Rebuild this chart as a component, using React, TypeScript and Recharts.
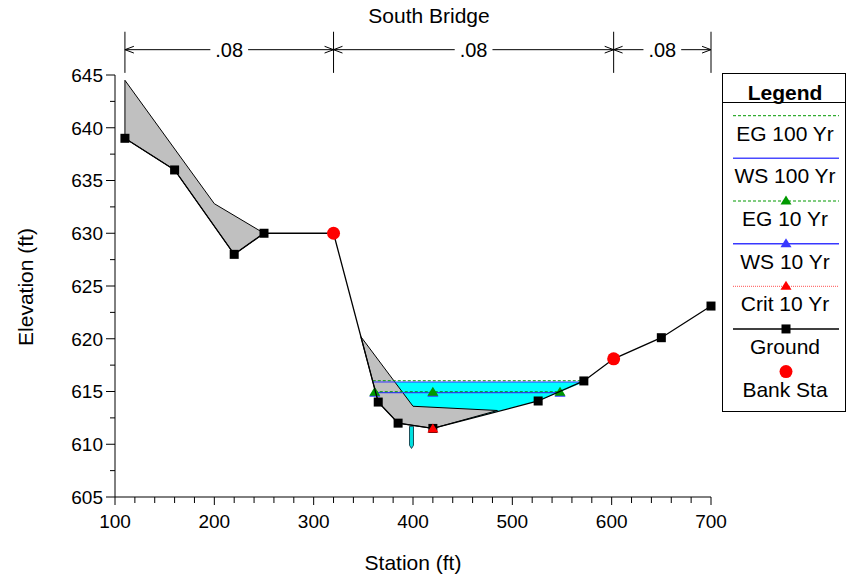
import { ComposedChart, XAxis, YAxis, Scatter, ReferenceLine, ReferenceDot, Legend } from 'recharts';

const FONT = '"Liberation Sans", Arial, Helvetica, sans-serif';

// ground profile (station ft, elevation ft)
const groundStations = [110, 160, 220, 250, 320, 365, 385, 420, 526, 572, 602, 650, 700];
const groundElev = [639, 636, 628, 630, 630, 614, 612, 611.5, 614.1, 616, 618.1, 620.1, 623.1];

const bankStations = [320, 602];
const bankElev = [630, 618.1];

// ineffective flow areas (gray polygons)
const ineff1Stations = [110, 200, 250, 220, 160, 110, 110];
const ineff1Elev = [644.5, 632.8, 630, 628, 636, 639, 644.5];
const ineff2Stations = [347.5, 400, 485, 420, 385, 365, 347.5];
const ineff2Elev = [620.2, 613.6, 613.2, 611.5, 612, 614, 620.2];

// wetted area below WS 100 Yr
const waterStations = [359.5, 572.5, 526, 420, 385, 365, 359.5];
const waterElev = [615.9, 615.9, 614.1, 611.5, 612, 614, 615.9];

// small pier below the channel
const pierStations = [396.5, 400.5, 400.5, 398.5, 396.5, 396.5];
const pierElev = [611.7, 611.7, 609.9, 609.6, 609.9, 611.7];

// water surfaces
const eg100Stations = [359.5, 572.5];
const eg100Elev = [616.02, 616.02];
const ws100Stations = [359.5, 572.5];
const ws100Elev = [615.9, 615.9];
const eg10Stations = [361.5, 420, 548];
const eg10Elev = [614.98, 614.98, 614.98];
const ws10Stations = [361.5, 420, 548];
const ws10Elev = [614.89, 614.89, 614.89];
const crit10Stations = [420];
const crit10Elev = [611.5];

// Manning's n breaks along the top
const nStations = [110, 320, 602, 700];
const nLabels = ['.08', '.08', '.08'];

// axis ticks
const xMajorTicks = [100, 200, 300, 400, 500, 600, 700];
const xMinorTicks = [120, 140, 160, 180, 220, 240, 260, 280, 320, 340, 360, 380, 420, 440, 460, 480, 520, 540, 560, 580, 620, 640, 660, 680];
const yMajorTicks = [605, 610, 615, 620, 625, 630, 635, 640, 645];
const yMinorTicks = [607.5, 612.5, 617.5, 622.5, 627.5, 632.5, 637.5, 642.5];

const toPts = (xs: number[], ys: number[]) => xs.map((x, i) => ({ x, y: ys[i] }));

const GREEN = '#009900';
const BLUE = '#3838ff';
const RED = '#ff0000';

const legendItems = [
  { name: 'EG 100 Yr', color: GREEN, dash: '3 2', marker: '' },
  { name: 'WS 100 Yr', color: '#4a4aff', dash: '', marker: '' },
  { name: 'EG 10 Yr', color: GREEN, dash: '3 2', marker: 'triangle' },
  { name: 'WS 10 Yr', color: BLUE, dash: '', marker: 'triangle' },
  { name: 'Crit 10 Yr', color: '#ff5050', dash: '1 1', marker: 'triangle' },
  { name: 'Ground', color: '#000', dash: '', marker: 'square' },
  { name: 'Bank Sta', color: RED, dash: 'none', marker: 'circle' },
];

const triangle = (cx: number, cy: number, color: string) => (
  <polygon points={`${cx},${cy - 5} ${cx + 5.5},${cy + 4} ${cx - 5.5},${cy + 4}`} fill={color} />
);

const triShape = (color: string) => (p: any) => triangle(p.cx, p.cy, color);
const squareShape = (p: any) => <rect x={p.cx - 4.5} y={p.cy - 4.5} width={9} height={9} fill="#000" />;
const bankShape = (p: any) => <circle cx={p.cx} cy={p.cy} r={6.5} fill={RED} />;
const noShape = () => <g />;

const YTick = ({ x, y, payload }: any) => {
  const major = yMajorTicks.includes(payload.value);
  return (
    <g>
      <line x1={x - (major ? 9 : 5)} x2={x} y1={y} y2={y} stroke="#000" />
      {major && (
        <text x={x - 12} y={y} dy="0.36em" textAnchor="end" fontSize={19} fontFamily={FONT} fill="#000">
          {payload.value}
        </text>
      )}
    </g>
  );
};

const XTick = ({ x, y, payload }: any) => {
  const major = xMajorTicks.includes(payload.value);
  return (
    <g>
      <line x1={x} x2={x} y1={y} y2={y + (major ? 8 : 6)} stroke="#000" />
      {major && (
        <text x={x} y={y + 31} textAnchor="middle" fontSize={19} fontFamily={FONT} fill="#000">
          {payload.value}
        </text>
      )}
    </g>
  );
};

const LegendBox = () => {
  const top = 42.7;
  const step = 42.65;
  return (
    <svg width={124} height={339} style={{ display: 'block' }}>
      <rect x={0.5} y={0.5} width={123} height={338} fill="#fff" stroke="#000" />
      <text x={63} y={27} textAnchor="middle" fontSize={21} fontWeight="bold" fontFamily={FONT}>Legend</text>
      <line x1={0} x2={124} y1={29.5} y2={29.5} stroke="#000" />
      {legendItems.map((it, k) => {
        const ly = top + k * step;
        const markColor = it.marker === 'triangle' && it.name.startsWith('Crit') ? RED : it.color;
        return (
          <g key={it.name}>
            {it.dash !== 'none' && (
              <line x1={11} x2={117} y1={ly} y2={ly} stroke={it.color} strokeWidth={it.dash ? 1 : 1.5}
                strokeDasharray={it.dash || undefined} />
            )}
            {it.marker === 'triangle' && triangle(64, ly - 0.5, markColor)}
            {it.marker === 'square' && <rect x={59.5} y={ly - 4.5} width={9} height={9} fill="#000" />}
            {it.marker === 'circle' && <circle cx={64} cy={ly} r={6.5} fill={RED} />}
            <text x={63} y={ly + 25} textAnchor="middle" fontSize={21} fontFamily={FONT} fill="#000">{it.name}</text>
          </g>
        );
      })}
    </svg>
  );
};

// dimension lines for Manning's n
const DIM_Y = 647.4;
const TICK_LO = 645.2;
const TICK_HI = 649.1;
const ARROW_DX = 9;
const ARROW_DY = 0.32;
const GAP = 19;

const dimSegments: { x: number; y: number }[][] = [];
nStations.forEach((b) => dimSegments.push([{ x: b, y: TICK_LO }, { x: b, y: TICK_HI }]));
nLabels.forEach((_, i) => {
  const a = nStations[i];
  const b = nStations[i + 1];
  const m = (a + b) / 2;
  dimSegments.push([{ x: a, y: DIM_Y }, { x: m - GAP, y: DIM_Y }]);
  dimSegments.push([{ x: m + GAP, y: DIM_Y }, { x: b, y: DIM_Y }]);
  dimSegments.push([{ x: a, y: DIM_Y }, { x: a + ARROW_DX, y: DIM_Y + ARROW_DY }]);
  dimSegments.push([{ x: a, y: DIM_Y }, { x: a + ARROW_DX, y: DIM_Y - ARROW_DY }]);
  dimSegments.push([{ x: b, y: DIM_Y }, { x: b - ARROW_DX, y: DIM_Y + ARROW_DY }]);
  dimSegments.push([{ x: b, y: DIM_Y }, { x: b - ARROW_DX, y: DIM_Y - ARROW_DY }]);
});

export default function App() {
  return (
    <div style={{ position: 'absolute', left: 0, top: 0, width: 847, height: 578, background: '#fff', fontFamily: FONT }}>
      <div style={{ position: 'absolute', left: 429, top: 15, transform: 'translate(-50%, -50%)', fontSize: 21, lineHeight: '21px', whiteSpace: 'nowrap' }}>
        South Bridge
      </div>
      <div style={{ position: 'absolute', left: 25, top: 287, transform: 'translate(-50%, -50%) rotate(-90deg)', fontSize: 21, lineHeight: '21px', whiteSpace: 'nowrap' }}>
        Elevation (ft)
      </div>
      <div style={{ position: 'absolute', left: 413, top: 562, transform: 'translate(-50%, -50%)', fontSize: 21, lineHeight: '21px', whiteSpace: 'nowrap' }}>
        Station (ft)
      </div>
      <ComposedChart width={847} height={578} margin={{ top: 75, right: 136, bottom: 0, left: 0 }}>
        <XAxis
          type="number"
          dataKey="x"
          domain={[100, 700]}
          ticks={[...xMajorTicks, ...xMinorTicks].sort((a, b) => a - b)}
          interval={0}
          tick={XTick}
          tickLine={false}
          tickSize={0}
          tickMargin={0}
          axisLine={{ stroke: '#000' }}
          height={81}
        />
        <YAxis
          type="number"
          dataKey="y"
          domain={[605, 645]}
          ticks={[...yMajorTicks, ...yMinorTicks].sort((a, b) => a - b)}
          interval={0}
          tick={YTick}
          tickLine={false}
          tickSize={0}
          tickMargin={0}
          axisLine={{ stroke: '#000' }}
          width={115}
        />
        <Legend content={LegendBox} layout="horizontal" verticalAlign="middle" align="center"
          wrapperStyle={{ left: 722, top: 73, width: 124, height: 339 }} />

        <Scatter name="water" data={toPts(waterStations, waterElev)} legendType="none" isAnimationActive={false}
          line={{ fill: '#00ffff', stroke: 'none' }} lineJointType="linear" shape={noShape} />
        <Scatter name="ineff1" data={toPts(ineff1Stations, ineff1Elev)} legendType="none" isAnimationActive={false}
          line={{ fill: '#c0c0c0', stroke: '#000', strokeWidth: 1 }} lineJointType="linear" shape={noShape} />
        <Scatter name="ineff2" data={toPts(ineff2Stations, ineff2Elev)} legendType="none" isAnimationActive={false}
          line={{ fill: '#c0c0c0', stroke: '#000', strokeWidth: 1 }} lineJointType="linear" shape={noShape} />
        <Scatter name="pier" data={toPts(pierStations, pierElev)} legendType="none" isAnimationActive={false}
          line={{ fill: '#00e0e0', stroke: '#1d4d58', strokeWidth: 1 }} lineJointType="linear" shape={noShape} />

        <Scatter name="EG 100 Yr" data={toPts(eg100Stations, eg100Elev)} isAnimationActive={false}
          line={{ stroke: GREEN, strokeWidth: 1, strokeDasharray: '3 2', fill: 'none' }} lineJointType="linear" shape={noShape} />
        <Scatter name="WS 100 Yr" data={toPts(ws100Stations, ws100Elev)} isAnimationActive={false}
          line={{ stroke: BLUE, strokeWidth: 1.2, fill: 'none' }} lineJointType="linear" shape={noShape} />
        <Scatter name="WS 10 Yr" data={toPts(ws10Stations, ws10Elev)} isAnimationActive={false}
          line={{ stroke: BLUE, strokeWidth: 1.2, fill: 'none' }} lineJointType="linear" shape={triShape(BLUE)} />
        <Scatter name="EG 10 Yr" data={toPts(eg10Stations, eg10Elev)} isAnimationActive={false}
          line={{ stroke: GREEN, strokeWidth: 1, strokeDasharray: '3 2', fill: 'none' }} lineJointType="linear" shape={triShape(GREEN)} />
        <Scatter name="Ground" data={toPts(groundStations, groundElev)} isAnimationActive={false}
          line={{ stroke: '#000', strokeWidth: 1.3, fill: 'none' }} lineJointType="linear" shape={squareShape} />
        <Scatter name="Crit 10 Yr" data={toPts(crit10Stations, crit10Elev)} isAnimationActive={false}
          shape={triShape(RED)} />
        <Scatter name="Bank Sta" data={toPts(bankStations, bankElev)} isAnimationActive={false} shape={bankShape} />

        {dimSegments.map((seg, i) => (
          <ReferenceLine key={`dim-${i}`} segment={seg} ifOverflow="visible" stroke="#000" strokeWidth={1} />
        ))}
        {nLabels.map((lab, i) => (
          <ReferenceDot key={`nl-${i}`} x={(nStations[i] + nStations[i + 1]) / 2} y={DIM_Y} r={0} ifOverflow="visible"
            fill="none" stroke="none"
            label={{ value: lab, position: 'center', fill: '#000', fontSize: 20, fontFamily: FONT }} />
        ))}
      </ComposedChart>
    </div>
  );
}
